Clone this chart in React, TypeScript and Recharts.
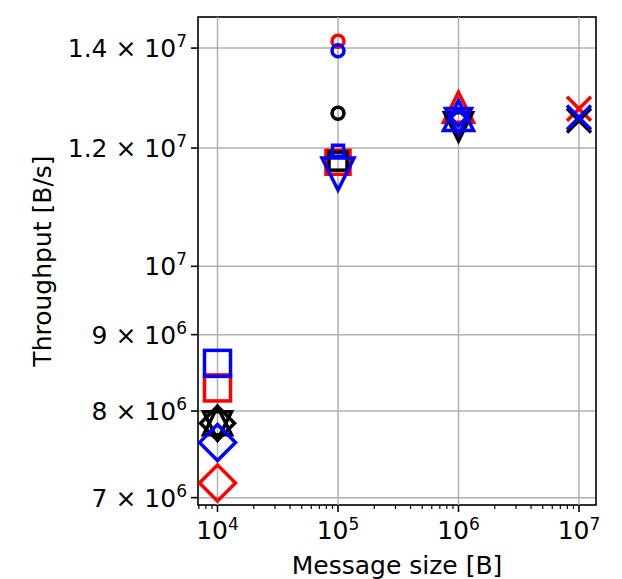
import React from 'react';
import { ScatterChart, Scatter, XAxis, YAxis, CartesianGrid, ReferenceLine, ReferenceArea } from 'recharts';

// axis ranges and ticks
const xDomain = [6888, 13840000];
const yDomain = [6921000, 14687000];
const xMajorTicks = [1e4, 1e5, 1e6, 1e7];
const xTickExponents = ['4', '5', '6', '7'];
const xMinorTicks = [
  7e3, 8e3, 9e3,
  2e4, 3e4, 4e4, 5e4, 6e4, 7e4, 8e4, 9e4,
  2e5, 3e5, 4e5, 5e5, 6e5, 7e5, 8e5, 9e5,
  2e6, 3e6, 4e6, 5e6, 6e6, 7e6, 8e6, 9e6,
];
const yTicks = [7e6, 8e6, 9e6, 1e7, 1.2e7, 1.4e7];
const yTickMantissas = ['7', '8', '9', '', '1.2', '1.4'];
const yTickExponents = ['6', '6', '6', '7', '7', '7'];

// red
const redSquareBig = [{ x: 1e4, y: 8.29e6 }];
const redDiamondBig = [{ x: 1e4, y: 7.16e6 }];
const redCircle = [{ x: 1e5, y: 1.415e7 }];
const redSquareMid = [{ x: 1e5, y: 1.174e7 }];
const redTriUp = [{ x: 1e6, y: 1.278e7 }];
const redDiamondSmall = [{ x: 1e6, y: 1.258e7 }];
const redCross = [{ x: 1e7, y: 1.275e7 }];

// black
const blackTriUp = [{ x: 1e4, y: 7.88e6 }];
const blackTriDown = [{ x: 1e4, y: 7.82e6 }, { x: 1e6, y: 1.24e7 }];
const blackDiamond = [{ x: 1e4, y: 7.85e6 }];
const blackCircle = [{ x: 1e5, y: 1.266e7 }];
const blackSquareSmall = [{ x: 1e5, y: 1.176e7 }];
const blackCross = [{ x: 1e7, y: 1.252e7 }];

// blue
const blueSquareBig = [{ x: 1e4, y: 8.61e6 }];
const blueDiamondBig = [{ x: 1e4, y: 7.62e6 }];
const blueCircle = [{ x: 1e5, y: 1.394e7 }];
const blueSquareSmall = [{ x: 1e5, y: 1.195e7 }];
const blueTriDownBig = [{ x: 1e5, y: 1.153e7 }];
const blueTriUp = [{ x: 1e6, y: 1.262e7 }];
const blueTriDown = [{ x: 1e6, y: 1.25e7 }];
const blueDiamondSmall = [{ x: 1e6, y: 1.257e7 }];
const blueCross = [{ x: 1e7, y: 1.258e7 }];

const RED = '#ff0000';
const BLUE = '#0000ff';
const BLACK = '#000000';
const FONT = 'DejaVu Sans, sans-serif';

const series = [
  { data: redSquareBig, color: RED, kind: 'square', size: 26 },
  { data: redDiamondBig, color: RED, kind: 'diamond', size: 36 },
  { data: redCircle, color: RED, kind: 'circle', size: 12 },
  { data: redSquareMid, color: RED, kind: 'square', size: 24 },
  { data: redTriUp, color: RED, kind: 'triUp', size: 30 },
  { data: redDiamondSmall, color: RED, kind: 'diamond', size: 16 },
  { data: redCross, color: RED, kind: 'cross', size: 24 },
  { data: blackTriUp, color: BLACK, kind: 'triUp', size: 28 },
  { data: blackTriDown, color: BLACK, kind: 'triDown', size: 28 },
  { data: blackDiamond, color: BLACK, kind: 'diamond', size: 34 },
  { data: blackCircle, color: BLACK, kind: 'circle', size: 12 },
  { data: blackSquareSmall, color: BLACK, kind: 'square', size: 18 },
  { data: blackCross, color: BLACK, kind: 'cross', size: 24 },
  { data: blueSquareBig, color: BLUE, kind: 'square', size: 26 },
  { data: blueDiamondBig, color: BLUE, kind: 'diamond', size: 36 },
  { data: blueCircle, color: BLUE, kind: 'circle', size: 12 },
  { data: blueSquareSmall, color: BLUE, kind: 'square', size: 11 },
  { data: blueTriDownBig, color: BLUE, kind: 'triDown', size: 32 },
  { data: blueTriUp, color: BLUE, kind: 'triUp', size: 30 },
  { data: blueTriDown, color: BLUE, kind: 'triDown', size: 26 },
  { data: blueDiamondSmall, color: BLUE, kind: 'diamond', size: 16 },
  { data: blueCross, color: BLUE, kind: 'cross', size: 24 },
];

function Marker({ cx, cy, kind, size, color }: any) {
  const h = size / 2;
  const common = { fill: 'none', stroke: color, strokeWidth: 3.5, strokeLinejoin: 'miter' as const };
  if (kind === 'square') return <rect x={cx - h} y={cy - h} width={size} height={size} {...common} />;
  if (kind === 'circle') return <circle cx={cx} cy={cy} r={h} {...common} />;
  if (kind === 'diamond')
    return <polygon points={`${cx},${cy - h} ${cx + h},${cy} ${cx},${cy + h} ${cx - h},${cy}`} {...common} />;
  if (kind === 'triUp')
    return <polygon points={`${cx},${cy - h} ${cx + h},${cy + h} ${cx - h},${cy + h}`} {...common} />;
  if (kind === 'triDown')
    return <polygon points={`${cx},${cy + h} ${cx - h},${cy - h} ${cx + h},${cy - h}`} {...common} />;
  return (
    <path d={`M${cx - h},${cy - h}L${cx + h},${cy + h}M${cx + h},${cy - h}L${cx - h},${cy + h}`} {...common} />
  );
}

const XTick = ({ x, y, payload }: any) => {
  const i = xMajorTicks.indexOf(payload.value);
  if (i < 0) return <line x1={x} x2={x} y1={y} y2={y + 4} stroke="#000" strokeWidth={1.2} />;
  return (
    <g>
      <line x1={x} x2={x} y1={y} y2={y + 7} stroke="#000" strokeWidth={1.6} />
      <text x={x} y={y + 34} textAnchor="middle" fontSize={25} fontFamily={FONT} fill="#000">
        10<tspan dy={-9} fontSize={17}>{xTickExponents[i]}</tspan>
      </text>
    </g>
  );
};

const YTick = ({ x, y, payload }: any) => {
  const i = yTicks.indexOf(payload.value);
  const m = yTickMantissas[i];
  return (
    <g>
      <line x1={x} x2={x - 7} y1={y} y2={y} stroke="#000" strokeWidth={1.6} />
      <text x={x - 11} y={y + 9} textAnchor="end" fontSize={25} fontFamily={FONT} fill="#000">
        {m ? `${m} × 10` : '10'}
        <tspan dy={-10} fontSize={17}>{yTickExponents[i]}</tspan>
      </text>
    </g>
  );
};

export default function App() {
  return (
    <div style={{ position: 'absolute', left: 0, top: 0, background: '#fff' }}>
      <ScatterChart width={622} height={579} margin={{ top: 17, right: 26, bottom: 0, left: 0 }}>
        <CartesianGrid vertical={false} stroke="#b0b0b0" strokeWidth={1.5} />
        {xMajorTicks.map((v) => (
          <ReferenceLine key={v} x={v} stroke="#b0b0b0" strokeWidth={1.5} />
        ))}
        <XAxis
          dataKey="x"
          type="number"
          scale="log"
          domain={xDomain}
          allowDataOverflow
          ticks={[...xMinorTicks, ...xMajorTicks].sort((a, b) => a - b)}
          interval={0}
          tick={<XTick />}
          tickLine={false}
          axisLine={false}
          tickSize={0}
          tickMargin={0}
          height={74}
          label={() => (
            <text x={397} y={574} textAnchor="middle" fontSize={25} fontFamily={FONT} fill="#000">
              Message size [B]
            </text>
          )}
        />
        <YAxis
          dataKey="y"
          type="number"
          scale="log"
          domain={yDomain}
          allowDataOverflow
          ticks={yTicks}
          interval={0}
          tick={<YTick />}
          tickLine={false}
          axisLine={false}
          tickSize={0}
          tickMargin={0}
          width={198}
          label={() => (
            <text
              x={51}
              y={261}
              transform="rotate(-90, 51, 261)"
              textAnchor="middle"
              fontSize={25}
              fontFamily={FONT}
              fill="#000"
            >
              Throughput [B/s]
            </text>
          )}
        />
        {series.map((s, i) => (
          <Scatter
            key={i}
            data={s.data}
            isAnimationActive={false}
            shape={(p: any) => <Marker cx={p.cx} cy={p.cy} kind={s.kind} size={s.size} color={s.color} />}
          />
        ))}
        <ReferenceArea
          x1={xDomain[0]}
          x2={xDomain[1]}
          y1={yDomain[0]}
          y2={yDomain[1]}
          fill="none"
          fillOpacity={0}
          stroke="#000"
          strokeWidth={1.6}
          ifOverflow="visible"
        />
      </ScatterChart>
    </div>
  );
}
